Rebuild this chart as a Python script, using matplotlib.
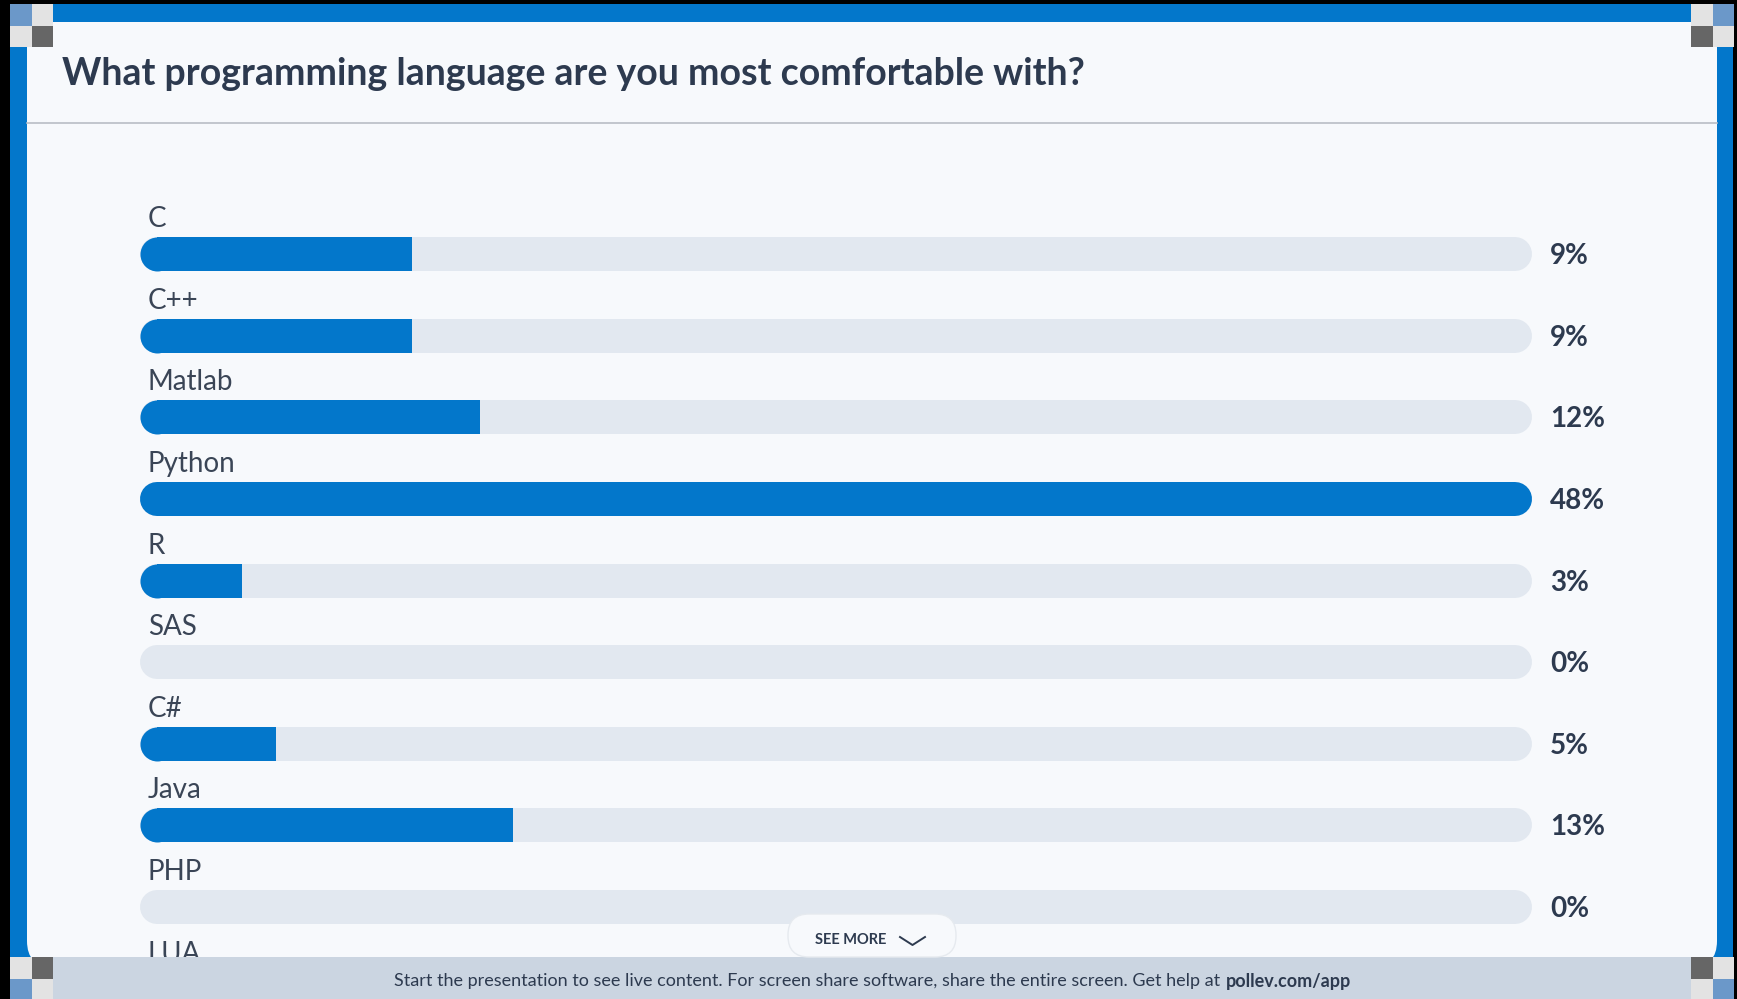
import matplotlib
matplotlib.use("Agg")
import matplotlib.pyplot as plt
from matplotlib.patches import FancyBboxPatch, Rectangle

# poll data (vote counts, percentages as shown)
languages = ["C", "C++", "Matlab", "Python", "R", "SAS", "C#", "Java", "PHP", "LUA"]
votes = [8, 8, 10, 41, 3, 0, 4, 11, 0, 0]
percents = ["9%", "9%", "12%", "48%", "3%", "0%", "5%", "13%", "0%", ""]
title = "What programming language are you most comfortable with?"
footer = "Start the presentation to see live content. For screen share software, share the entire screen. Get help at"
footer_link = "pollev.com/app"

BLUE = "#0377cb"
CARD = "#f7f9fc"
TRACK = "#e2e8f0"
TEXT = "#2d3a4f"
FONT = "Lato"

W, H = 1737, 999
fig = plt.figure(figsize=(W / 100, H / 100), dpi=100)
fig.patch.set_facecolor("black")

# background layer in pixel coordinates
bg = fig.add_axes([0, 0, 1, 1], zorder=0)
bg.set_xlim(0, W)
bg.set_ylim(H, 0)
bg.axis("off")
bg.add_patch(Rectangle((10, 4), 1723, 970, color=BLUE, lw=0))
bg.add_patch(FancyBboxPatch((27, 22), 1690, 945, boxstyle="round,pad=0,rounding_size=26",
                            fc=CARD, ec="none"))
bg.plot([27, 1717], [123, 123], color="#b9bec5", lw=1.2)
bg.text(62, 85, title, fontsize=27, fontweight="bold", color=TEXT, family=FONT,
        va="baseline", ha="left")

# bars layer: x in votes, y in rows
bar_left, bar_right = 140, 1532
row0, step = 254.2, 81.6
bar_h = 34
n = len(languages)
top_px = row0 - step / 2
bot_px = row0 + (n - 0.5) * step
ax = fig.add_axes([bar_left / W, 1 - bot_px / H, (bar_right - bar_left) / W, (bot_px - top_px) / H],
                  zorder=1)
vmax = max(votes)
ax.set_xlim(0, vmax)
ax.set_ylim(n - 0.5, -0.5)
ax.axis("off")

r = (bar_h / 2) / (bar_right - bar_left) * vmax
lw_pt = bar_h * 72 / 100
ax.hlines(range(n), r, vmax - r, color=TRACK, lw=lw_pt, capstyle="round", zorder=1)
for i, v in enumerate(votes):
    if v <= 0:
        continue
    if v >= vmax:
        ax.hlines(i, r, v - r, color=BLUE, lw=lw_pt, capstyle="round", zorder=3)
    else:
        ax.barh(i, v - r, left=r, height=bar_h / step, color=BLUE, lw=0, zorder=3)
        ax.scatter([r], [i], s=lw_pt ** 2, color=BLUE, lw=0, zorder=3)

for i, name in enumerate(languages):
    ax.annotate(name, xy=(0, i), xytext=(8, 27), textcoords="offset pixels",
                fontsize=20, color="#3a4556", family=FONT, va="baseline", ha="left",
                annotation_clip=False)
    if percents[i]:
        ax.annotate(percents[i], xy=(vmax, i), xytext=(18, -10), textcoords="offset pixels",
                    fontsize=20, fontweight="bold", color=TEXT, family=FONT,
                    va="baseline", ha="left", annotation_clip=False)

# overlay: footer, corners, see-more button
ov = fig.add_axes([0, 0, 1, 1], zorder=3)
ov.set_xlim(0, W)
ov.set_ylim(H, 0)
ov.axis("off")
ov.patch.set_alpha(0)
ov.add_patch(Rectangle((10, 957), 1723, 42, color="#cbd5e1", lw=0))
ov.text(1220, 981, footer, fontsize=13, color=TEXT, family=FONT, ha="right", va="center")
ov.text(1226, 981, footer_link, fontsize=13, fontweight="bold", color=TEXT, family=FONT,
        ha="left", va="center")

LB, LG, DG = "#6b98c9", "#e3e3e3", "#666666"
corners = [
    (10, 4, [[LB, LG], [LG, DG]]),
    (1691, 4, [[LG, LB], [DG, LG]]),
    (10, 957, [[LG, DG], [LB, LG]]),
    (1691, 957, [[DG, LG], [LG, LB]]),
]
for x0, y0, grid in corners:
    for ri, row in enumerate(grid):
        for ci, c in enumerate(row):
            ov.add_patch(Rectangle((x0 + ci * 21.5, y0 + ri * 21.5), 21.5, 21.5, color=c, lw=0))

ov.add_patch(FancyBboxPatch((788, 914), 168, 43, boxstyle="round,pad=0,rounding_size=21",
                            fc=CARD, ec="#e6eaef", lw=1))
ov.text(851, 940, "SEE MORE", fontsize=10.5, fontweight="bold", color=TEXT, family=FONT,
        ha="center", va="center")
ov.plot([900, 912.5, 925], [937, 945, 937], color=TEXT, lw=1.4)

fig.savefig("out.png", dpi=100, facecolor=fig.get_facecolor())
